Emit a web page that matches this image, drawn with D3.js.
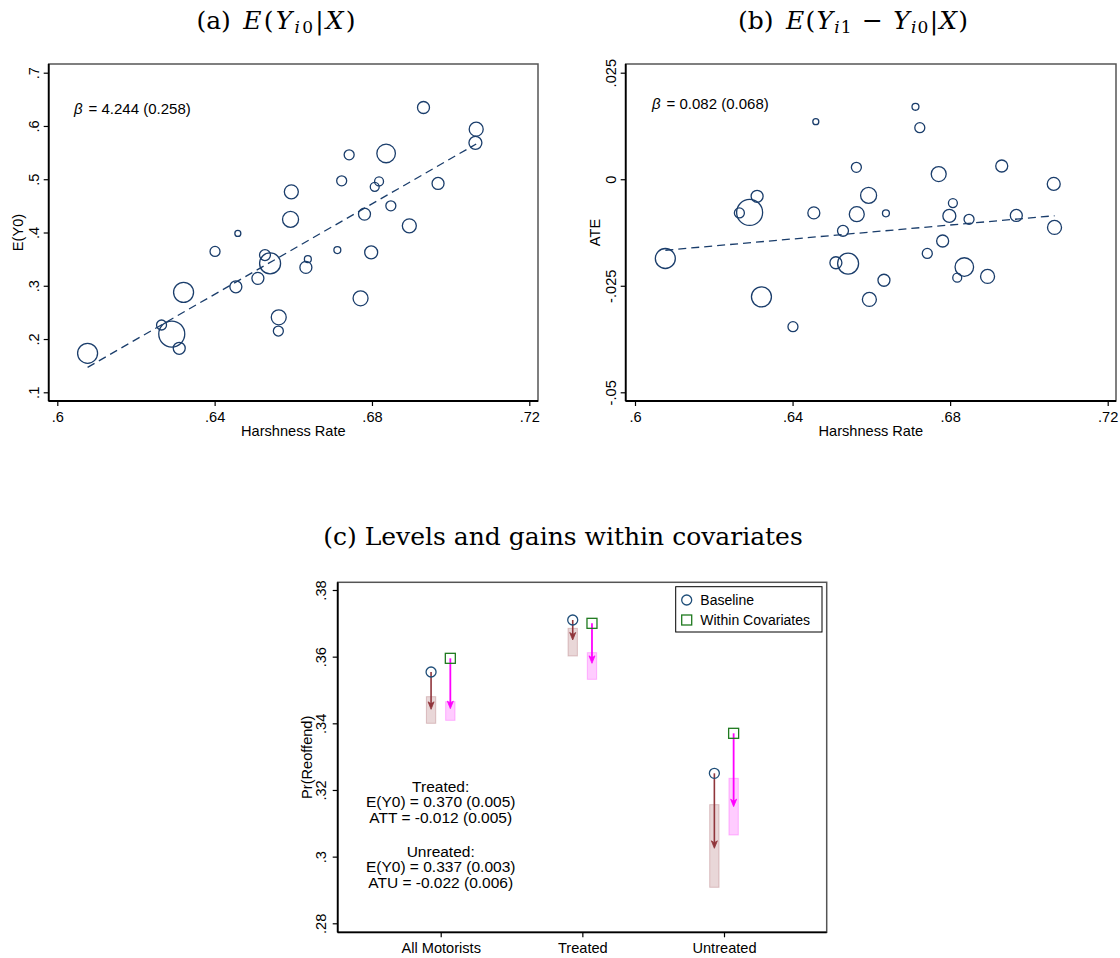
<!DOCTYPE html>
<html>
<head>
<meta charset="utf-8">
<script src="https://cdn.jsdelivr.net/npm/d3@7"></script>
<style>
  html, body { margin: 0; padding: 0; background: #fff; }
  svg { display: block; }
  .sans { font-family: "Liberation Sans", Arial, Helvetica, sans-serif; }
  .serif { font-family: "DejaVu Serif", "Liberation Serif", serif; }
</style>
</head>
<body>
<svg id="fig" width="1120" height="958"></svg>
<script>
// ---- County-level data: harshness rate, outcome means and effects ----
const harshness = [0.6077,0.6265,0.6291,0.6310,0.6321,0.6401,0.6454,0.6459,0.6510,0.6528,
                   0.6541,0.6563,0.6562,0.6593,0.6595,0.6632,0.6637,0.6712,0.6723,0.6742,
                   0.6771,0.6781,0.6798,0.6807,0.6818,0.6836,0.6848,0.6895,0.6931,0.6968,
                   0.7065,0.7063];
const meanY0 =    [0.1732,0.2263,0.2094,0.1826,0.2876,0.3645,0.2981,0.3983,0.3139,0.3576,
                   0.3420,0.2407,0.2150,0.4246,0.4764,0.3345,0.3500,0.3670,0.4970,0.5458,
                   0.2764,0.4345,0.3627,0.4857,0.4959,0.5484,0.4501,0.4126,0.6347,0.4921,
                   0.5940,0.5683];
const ate =       [-0.0186,-0.0079,-0.0078,-0.0040,-0.0276,-0.0346,-0.0079,0.0135,-0.0196,-0.0121,
                   -0.0198,-0.0082,0.0028,-0.0038,-0.0282,-0.0237,-0.0080,0.0170,0.0121,-0.0174,
                   0.0012,-0.0145,-0.0086,-0.0056,-0.0231,-0.0206,-0.0094,-0.0228,0.0031,-0.0085,
                   -0.0113,-0.0011];
const weights =   [100,25,169,36,100,25,36,9,36,30,
                   110,56,25,64,49,36,12,12,25,25,
                   56,36,42,20,20,86,25,49,36,36,
                   49,42];

// Weighted linear fits (intercept, slope, se of slope)
const fitY0  = { a: -2.4322, b: 4.244, se: 0.258 };
const fitATE = { a: -0.0665, b: 0.082, se: 0.068 };

// Tick values
const xTicks = [0.60, 0.64, 0.68, 0.72];
const xTickLabels = [".6", ".64", ".68", ".72"];
const y0Ticks = [0.1, 0.2, 0.3, 0.4, 0.5, 0.6, 0.7];
const y0TickLabels = [".1", ".2", ".3", ".4", ".5", ".6", ".7"];
const ateTicks = [-0.05, -0.025, 0, 0.025];
const ateTickLabels = ["-.05", "-.025", "0", ".025"];

// ---- Panel (c): levels and gains by group ----
const groups = ["All Motorists", "Treated", "Untreated"];
const baseLevel  = [0.3554, 0.3710, 0.3250];
const baseEnd    = [0.3442, 0.3650, 0.3025];
const baseLo     = [0.3400, 0.3602, 0.2908];
const baseHi     = [0.3480, 0.3685, 0.3156];
const covLevel   = [0.3595, 0.370, 0.337];
const covEnd     = [0.3444, 0.358, 0.315];
const covLo      = [0.3409, 0.3532, 0.3065];
const covHi      = [0.3465, 0.3612, 0.3235];
const prTicks = [0.28, 0.30, 0.32, 0.34, 0.36, 0.38];
const prTickLabels = [".28", ".3", ".32", ".34", ".36", ".38"];
const noteTreated = ["Treated:", "E(Y0) = 0.370 (0.005)", "ATT = -0.012 (0.005)"];
const noteUntreated = ["Unreated:", "E(Y0) = 0.337 (0.003)", "ATU = -0.022 (0.006)"];

// ---- Drawing ----
const svg = d3.select("#fig");
svg.append("rect").attr("width", 1120).attr("height", 958).attr("fill", "#fff");

const navy = "#1a3d6b";
const axisFont = 14.6;
const rScale = d3.scaleSqrt().domain([0, d3.max(weights)]).range([0, 13]);

function frame(g, box) {
  g.append("rect")
    .attr("x", box.l).attr("y", box.t)
    .attr("width", box.r - box.l).attr("height", box.b - box.t)
    .attr("fill", "none").attr("stroke", "#555").attr("stroke-width", 1.5);
}

function leftAxis(g, y, box, ticks, labels, off) {
  const ax = d3.axisLeft(y).tickValues(ticks).tickSize(5)
    .tickFormat((d, i) => labels[i]);
  const a = g.append("g").attr("transform", `translate(${box.l},0)`).call(ax);
  a.select(".domain").attr("d", `M0,${box.t}V${box.b}`).attr("stroke", "#000").attr("stroke-width", 1.8);
  a.selectAll(".tick line").attr("stroke", "#000").attr("stroke-width", 1.2);
  a.selectAll(".tick text")
    .attr("x", null).attr("dy", null)
    .attr("transform", `translate(${-off},0) rotate(-90)`)
    .attr("text-anchor", "middle")
    .attr("class", "sans").attr("font-size", axisFont).attr("fill", "#000");
  return a;
}

function bottomAxis(g, x, box, ticks, labels) {
  const ax = d3.axisBottom(x).tickValues(ticks).tickSize(5)
    .tickFormat((d, i) => labels[i]);
  const a = g.append("g").attr("transform", `translate(0,${box.b})`).call(ax);
  a.select(".domain").attr("d", `M${box.l},0H${box.r}`).attr("stroke", "#000").attr("stroke-width", 1.8);
  a.selectAll(".tick line").attr("stroke", "#000").attr("stroke-width", 1.2);
  a.selectAll(".tick text")
    .attr("y", 20.5).attr("dy", null)
    .attr("class", "sans").attr("font-size", axisFont).attr("fill", "#000");
  return a;
}

// Title with math-style tspans (italic symbols, subscripts, wider math spacing)
function mathTitle(x, y, parts, spacing) {
  const t = svg.append("text").attr("class", "serif").attr("x", x).attr("y", y)
    .attr("text-anchor", "middle").attr("font-size", 25).attr("fill", "#000");
  parts.forEach(p => {
    const s = t.append("tspan").text(p.t);
    if (p.m) s.attr("letter-spacing", spacing);
    if (p.i) s.attr("font-style", "italic");
    if (p.sub) s.attr("font-size", 17).attr("baseline-shift", "-25%");
  });
  return t;
}

function betaNote(g, x, y, txt) {
  const t = g.append("text").attr("class", "sans").attr("x", x).attr("y", y)
    .attr("font-size", 15).attr("fill", "#000");
  t.append("tspan").attr("font-style", "italic").text("β");
  t.append("tspan").attr("dx", 6).text(txt);
}

function scatterPanel(box, xs, ys, yVals, fit) {
  const g = svg.append("g");
  frame(g, box);
  g.append("g").selectAll("circle")
    .data(harshness.map((h, i) => ({ h, v: yVals[i], w: weights[i] })))
    .join("circle")
    .attr("cx", d => xs(d.h)).attr("cy", d => ys(d.v)).attr("r", d => rScale(d.w))
    .attr("fill", "none").attr("stroke", navy).attr("stroke-width", 1.3);
  const x0 = d3.min(harshness), x1 = d3.max(harshness);
  g.append("line")
    .attr("x1", xs(x0)).attr("y1", ys(fit.a + fit.b * x0))
    .attr("x2", xs(x1)).attr("y2", ys(fit.a + fit.b * x1))
    .attr("stroke", navy).attr("stroke-width", 1.3).attr("stroke-dasharray", "8,5");
  return g;
}

// Panel (a)
const boxA = { l: 48.7, r: 538, t: 64, b: 401 };
const xA = d3.scaleLinear().domain([0.6, 0.72]).range([57.3, 529.3]);
const yA = d3.scaleLinear().domain([0.1, 0.7]).range([392.3, 72.7]);
const gA = scatterPanel(boxA, xA, yA, meanY0, fitY0);
leftAxis(gA, yA, boxA, y0Ticks, y0TickLabels, 9.5);
bottomAxis(gA, xA, boxA, xTicks, xTickLabels);
gA.append("text").attr("class", "sans").attr("font-size", axisFont)
  .attr("transform", `translate(22.5,${(boxA.t + boxA.b) / 2}) rotate(-90)`)
  .attr("text-anchor", "middle").text("E(Y0)");
gA.append("text").attr("class", "sans").attr("font-size", axisFont)
  .attr("x", (boxA.l + boxA.r) / 2).attr("y", 435.5).attr("text-anchor", "middle").text("Harshness Rate");
betaNote(gA, 74, 113.5, `= ${fitY0.b.toFixed(3)} (${fitY0.se.toFixed(3)})`);

// Panel (b)
const boxB = { l: 625.7, r: 1116, t: 64, b: 401 };
const xB = d3.scaleLinear().domain([0.6, 0.72]).range([635, 1107.7]);
const yB = d3.scaleLinear().domain([-0.05, 0.025]).range([392.3, 72.7]);
const gB = scatterPanel(boxB, xB, yB, ate, fitATE);
leftAxis(gB, yB, boxB, ateTicks, ateTickLabels, 9.5);
bottomAxis(gB, xB, boxB, xTicks, xTickLabels);
gB.append("text").attr("class", "sans").attr("font-size", axisFont)
  .attr("transform", `translate(600,${(boxB.t + boxB.b) / 2}) rotate(-90)`)
  .attr("text-anchor", "middle").text("ATE");
gB.append("text").attr("class", "sans").attr("font-size", axisFont)
  .attr("x", (boxB.l + boxB.r) / 2).attr("y", 435.5).attr("text-anchor", "middle").text("Harshness Rate");
betaNote(gB, 652, 108.5, `= ${fitATE.b.toFixed(3)} (${fitATE.se.toFixed(3)})`);

// Titles
mathTitle(276, 29, [{ t: "(a)\u2002" }, { t: "E", i: 1, m: 1 }, { t: "(", m: 1 }, { t: "Y", i: 1, m: 1 },
  { t: "i", i: 1, sub: 1, m: 1 }, { t: "0", sub: 1, m: 1 }, { t: "|", m: 1 }, { t: "X", i: 1, m: 1 }, { t: ")" }], 2.2);
mathTitle(853, 29, [{ t: "(b)\u2002" }, { t: "E", i: 1, m: 1 }, { t: "(", m: 1 }, { t: "Y", i: 1, m: 1 },
  { t: "i", i: 1, sub: 1, m: 1 }, { t: "1", sub: 1, m: 1 }, { t: " − ", m: 1 }, { t: "Y", i: 1, m: 1 },
  { t: "i", i: 1, sub: 1, m: 1 }, { t: "0", sub: 1, m: 1 }, { t: "|", m: 1 }, { t: "X", i: 1, m: 1 }, { t: ")" }], 1.2);
mathTitle(563, 545, [{ t: "(c) Levels and gains within covariates" }], 0);

// Panel (c)
const boxC = { l: 337.7, r: 826.7, t: 582.3, b: 932.3 };
const xC = d3.scaleLinear().domain([1, 3]).range([440.7, 724]);
const yC = d3.scaleLinear().domain([0.28, 0.38]).range([923.3, 590]);
const gC = svg.append("g");
frame(gC, boxC);
leftAxis(gC, yC, boxC, prTicks, prTickLabels, 12);
bottomAxis(gC, xC, boxC, [1, 2, 3], groups);
gC.append("text").attr("class", "sans").attr("font-size", axisFont)
  .attr("transform", `translate(311.5,${(boxC.t + boxC.b) / 2}) rotate(-90)`)
  .attr("text-anchor", "middle").text("Pr(Reoffend)");

const offset = 0.068, halfW = 0.033;
const maroon = "#90353b", magenta = "#ff00ff";
const cData = groups.map((g, i) => ({
  i: i + 1,
  base: { lv: baseLevel[i], end: baseEnd[i], lo: baseLo[i], hi: baseHi[i] },
  cov: { lv: covLevel[i], end: covEnd[i], lo: covLo[i], hi: covHi[i] }
}));

function arrowSeries(key, dx, col, fillCol, strokeCol, lw) {
  const s = gC.append("g");
  s.selectAll("rect").data(cData).join("rect")
    .attr("x", d => xC(d.i + dx - halfW)).attr("width", d => xC(d.i + dx + halfW) - xC(d.i + dx - halfW))
    .attr("y", d => yC(d[key].hi)).attr("height", d => yC(d[key].lo) - yC(d[key].hi))
    .attr("fill", fillCol).attr("stroke", strokeCol).attr("stroke-width", 1);
  s.selectAll("line").data(cData).join("line")
    .attr("x1", d => xC(d.i + dx)).attr("x2", d => xC(d.i + dx))
    .attr("y1", d => yC(d[key].lv)).attr("y2", d => yC(d[key].end) - 3)
    .attr("stroke", col).attr("stroke-width", lw);
  s.selectAll("path").data(cData).join("path")
    .attr("d", d => {
      const x = xC(d.i + dx), y = yC(d[key].end);
      return `M${x},${y}L${x - 3},${y - 7.5}L${x},${y - 5.5}L${x + 3},${y - 7.5}Z`;
    })
    .attr("fill", col).attr("stroke", col).attr("stroke-width", 0.8);
}
arrowSeries("base", -offset, maroon, "rgba(144,53,59,0.2)", "rgba(144,53,59,0.25)", 1.6);
arrowSeries("cov", offset, magenta, "rgba(255,0,255,0.2)", "rgba(255,0,255,0.25)", 1.8);

const circCol = "#1f4e79", sqCol = "#1f7a1f";
gC.append("g").selectAll("circle").data(cData).join("circle")
  .attr("cx", d => xC(d.i - offset)).attr("cy", d => yC(d.base.lv)).attr("r", 5)
  .attr("fill", "none").attr("stroke", circCol).attr("stroke-width", 1.3);
gC.append("g").selectAll("rect").data(cData).join("rect")
  .attr("x", d => xC(d.i + offset) - 5).attr("y", d => yC(d.cov.lv) - 5)
  .attr("width", 10).attr("height", 10)
  .attr("fill", "none").attr("stroke", sqCol).attr("stroke-width", 1.3);

// Annotations
function noteBlock(lines, yCenter) {
  const t = gC.append("text").attr("class", "sans").attr("font-size", 15.5)
    .attr("text-anchor", "middle").attr("fill", "#000");
  lines.forEach((l, k) => {
    t.append("tspan").attr("x", xC(1)).attr("y", yC(yCenter) + (k - 1) * 15.6 + 5.5).text(l);
  });
}
noteBlock(noteTreated, 0.3164);
noteBlock(noteUntreated, 0.2969);

// Legend
const lg = gC.append("g");
lg.append("rect").attr("x", 675.7).attr("y", 586.7).attr("width", 146.3).attr("height", 45.3)
  .attr("fill", "#fff").attr("stroke", "#000").attr("stroke-width", 1);
lg.append("circle").attr("cx", 686.7).attr("cy", 600).attr("r", 5)
  .attr("fill", "none").attr("stroke", circCol).attr("stroke-width", 1.3);
lg.append("rect").attr("x", 681.7).attr("y", 615).attr("width", 10).attr("height", 10)
  .attr("fill", "none").attr("stroke", sqCol).attr("stroke-width", 1.3);
lg.append("text").attr("class", "sans").attr("font-size", 14).attr("x", 700.3).attr("y", 605).text("Baseline");
lg.append("text").attr("class", "sans").attr("font-size", 14).attr("x", 700.3).attr("y", 625).text("Within Covariates");
</script>
</body>
</html>
